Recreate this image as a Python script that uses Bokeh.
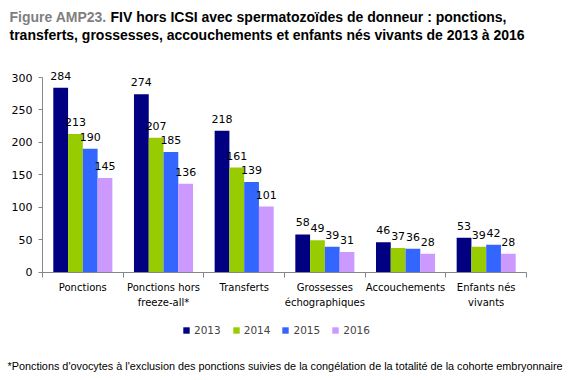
from bokeh.plotting import figure
from bokeh.models import (ColumnDataSource, Range1d, FixedTicker, LinearAxis,
                          Label, LabelSet, Legend, LegendItem)
from bokeh.core.properties import value
from bokeh.transform import dodge
from bokeh.embed import file_html
from bokeh.resources import INLINE

categories = ["Ponctions", "Ponctions hors\nfreeze-all*", "Transferts",
              "Grossesses\néchographiques", "Accouchements", "Enfants nés\nvivants"]
years = ["2013", "2014", "2015", "2016"]
v2013 = [284, 274, 218, 58, 46, 53]
v2014 = [213, 207, 161, 49, 37, 39]
v2015 = [190, 185, 139, 39, 36, 42]
v2016 = [145, 136, 101, 31, 28, 28]
colors = ["#000080", "#99cc00", "#3366ff", "#cc99ff"]
y_ticks = [0, 50, 100, 150, 200, 250, 300]

title_prefix = "Figure AMP23."
title_line1 = "FIV hors ICSI avec spermatozoïdes de donneur : ponctions,"
title_line2 = "transferts, grossesses, accouchements et enfants nés vivants de 2013 à 2016"
footnote = ("*Ponctions d'ovocytes à l'exclusion des ponctions suivies de la congélation "
            "de la totalité de la cohorte embryonnaire")

TF = "Liberation Sans"
VF = "DejaVu Sans"
AX = "#868686"
W, H = 580, 380
# pixel geometry of the plotting area (frame covers whole canvas; axes fixed inside)
X0, CW = 42.0, 80.67        # left of category axis, px per category
Y0, PPU = 271.5, 194.5 / 300  # pixel row of value 0, px per unit

series = [v2013, v2014, v2015, v2016]
xc = [i + 0.5 for i in range(len(categories))]
data = {"x": xc}
for y, s in zip(years, series):
    data["y" + y] = s
    data["t" + y] = [str(v) for v in s]
src = ColumnDataSource(data)

p = figure(width=W, height=H, output_backend="svg", toolbar_location=None,
           x_range=Range1d(-X0 / CW, (W - X0) / CW),
           y_range=Range1d(-(H - Y0) / PPU, Y0 / PPU),
           min_border=0, x_axis_type=None, y_axis_type=None)
p.outline_line_color = None
p.xgrid.visible = False
p.ygrid.visible = False

bw = 0.183
offs = [-1.5 * bw, -0.5 * bw, 0.5 * bw, 1.5 * bw]
items = []
for y, c, o in zip(years, colors, offs):
    r = p.vbar(x=dodge("x", o, range=p.x_range), top="y" + y, width=bw, bottom=0,
               source=src, fill_color=c, line_color=None)
    items.append(LegendItem(label=y, renderers=[r]))
    ls = LabelSet(x=dodge("x", o, range=p.x_range), y="y" + y, text="t" + y, source=src,
                  text_align="center", text_baseline="alphabetic", y_offset=8,
                  text_font=value(VF), text_font_size=value("11px"),
                  text_color="#000000")
    p.add_layout(ls)

yaxis = LinearAxis(ticker=FixedTicker(ticks=y_ticks, minor_ticks=[]), bounds=(0, 300),
                   fixed_location=0)
yaxis.axis_line_color = AX
yaxis.major_tick_line_color = AX
yaxis.major_tick_out = 4
yaxis.major_tick_in = 0
yaxis.minor_tick_line_color = None
yaxis.major_label_standoff = 6
yaxis.major_label_text_font = VF
yaxis.major_label_text_font_size = "11px"
yaxis.major_label_text_color = "#000000"
p.add_layout(yaxis, "left")

xaxis = LinearAxis(ticker=FixedTicker(ticks=xc, minor_ticks=list(range(len(categories) + 1))),
                   bounds=(0, len(categories)), fixed_location=0)
xaxis.major_label_overrides = {x: c for x, c in zip(xc, categories)}
xaxis.axis_line_color = AX
xaxis.major_tick_line_color = None
xaxis.major_tick_out = 0
xaxis.major_tick_in = 0
xaxis.minor_tick_line_color = AX
xaxis.minor_tick_out = 5
xaxis.minor_tick_in = 0
xaxis.major_label_standoff = 5
xaxis.major_label_text_font = VF
xaxis.major_label_text_font_size = "10px"
xaxis.major_label_text_line_height = 1.4
xaxis.major_label_text_color = "#000000"
p.add_layout(xaxis, "below")

legend = Legend(items=items, orientation="horizontal", location=(182, H - 336),
                glyph_width=8, glyph_height=8, label_standoff=4, spacing=11,
                padding=0, margin=0, label_height=12,
                label_text_font=VF, label_text_font_size="10.5px",
                border_line_color=None, background_fill_alpha=0)
p.add_layout(legend, "center")

def lab(x, ybase, text, color="#000000", bold=True, size="14px"):
    p.add_layout(Label(x=x, y=H - ybase, x_units="screen", y_units="screen", text=text,
                       text_font=TF, text_font_style="bold" if bold else "normal",
                       text_font_size=size, text_color=color, text_baseline="alphabetic"))

lab(9, 16, title_prefix, color="#7f7f7f")
lab(110, 16, title_line1)
lab(9, 34, title_line2)
lab(7, 365, footnote, bold=False, size="10.85px")

open("out.html", "w").write(file_html(p, INLINE))
